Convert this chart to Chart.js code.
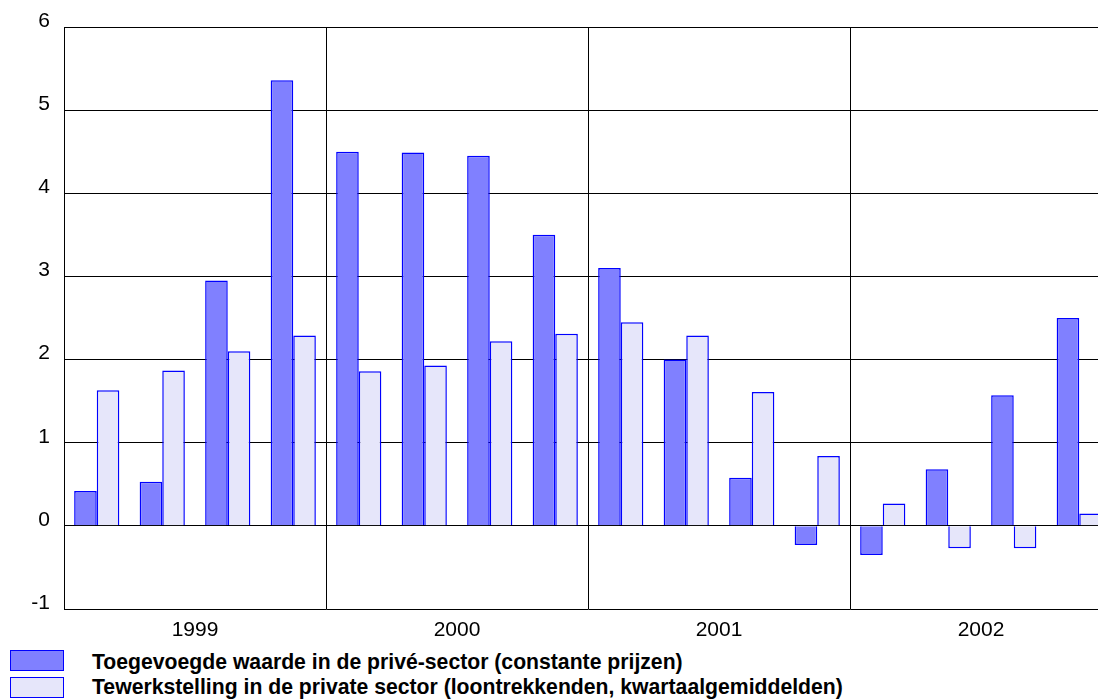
<!DOCTYPE html>
<html>
<head>
<meta charset="utf-8">
<script src="https://cdn.jsdelivr.net/npm/chart.js@4"></script>
<style>
  html, body { margin: 0; padding: 0; background: #fff; overflow: hidden; width: 1098px; height: 700px; }
  #wrap { position: absolute; left: 0; top: 0; width: 1130px; height: 650px; }
  .lg-box { position: absolute; left: 10px; width: 52px; height: 19px; border: 1px solid #0000ff; }
  .lg-text { position: absolute; left: 92px; font: bold 21.2px "Liberation Sans", Arial, sans-serif; color: #000; white-space: nowrap; line-height: 21px; }
</style>
</head>
<body>
<div id="wrap"><canvas id="c"></canvas></div>
<div class="lg-box" style="top:650px;background:#8080ff"></div>
<div class="lg-text" style="top:651px" id="l1"></div>
<div class="lg-box" style="top:677px;background:#e6e6fa"></div>
<div class="lg-text" style="top:676px" id="l2"></div>
<script>
// Quarters 1999 Q1 .. 2002 Q4
const quarters = ['1999 K1','1999 K2','1999 K3','1999 K4',
                  '2000 K1','2000 K2','2000 K3','2000 K4',
                  '2001 K1','2001 K2','2001 K3','2001 K4',
                  '2002 K1','2002 K2','2002 K3','2002 K4'];
const years = ['1999', '2000', '2001', '2002'];

const seriesNames = [
  'Toegevoegde waarde in de privé-sector (constante prijzen)',
  'Tewerkstelling in de private sector (loontrekkenden, kwartaalgemiddelden)'
];

// Year-on-year growth (%)
const toegevoegdeWaarde = [0.42, 0.53, 2.95, 5.36,
                           4.50, 4.49, 4.45, 3.50,
                           3.10, 2.00, 0.58, -0.23,
                           -0.35, 0.68, 1.57, 2.50];
const tewerkstelling = [1.63, 1.87, 2.10, 2.29,
                        1.86, 1.93, 2.22, 2.31,
                        2.45, 2.29, 1.61, 0.84,
                        0.27, -0.27, -0.27, 0.15];

const yTicks = [-1, 0, 1, 2, 3, 4, 5, 6];

document.getElementById('l1').textContent = seriesNames[0];
document.getElementById('l2').textContent = seriesNames[1];

const FONT = { family: '"Liberation Sans", Arial, sans-serif', size: 21 };

function draw() {
  new Chart(document.getElementById('c'), {
    type: 'bar',
    data: {
      labels: quarters,
      datasets: [
        { label: seriesNames[0], data: toegevoegdeWaarde, backgroundColor: '#8080ff',
          borderColor: '#0000ff', borderWidth: 1.5 },
        { label: seriesNames[1], data: tewerkstelling, backgroundColor: '#e6e6fa',
          borderColor: '#0000ff', borderWidth: 1.5 }
      ]
    },
    options: {
      responsive: true,
      maintainAspectRatio: false,
      animation: false,
      layout: { padding: { top: 27, right: 18, bottom: 0, left: 0 } },
      datasets: { bar: { categoryPercentage: 0.69, barPercentage: 1.0 } },
      plugins: { legend: { display: false }, tooltip: { enabled: false } },
      scales: {
        x: {
          display: false,
          offset: true
        },
        years: {
          type: 'category',
          position: 'bottom',
          labels: years,
          offset: true,
          grid: { offset: true, color: '#000', lineWidth: 1, drawTicks: false },
          border: { display: false },
          ticks: { color: '#000', font: FONT, padding: 9, maxRotation: 0 },
          afterFit: (s) => { s.height = 41; }
        },
        y: {
          min: -1,
          max: 6,
          afterBuildTicks: (s) => { s.ticks = yTicks.map(v => ({ value: v })); },
          grid: { color: '#000', lineWidth: 1, drawTicks: false },
          border: { display: true, color: '#000', width: 1 },
          ticks: { color: '#000', font: FONT, padding: 14, labelOffset: -6 },
          afterFit: (s) => { s.width = 64; }
        }
      }
    }
  });
}

// Make sure the tick font is ready before the canvas is painted
if (document.fonts && document.fonts.load) {
  Promise.all([
    document.fonts.load('21px "Liberation Sans"'),
    document.fonts.load('bold 21px "Liberation Sans"')
  ]).then(draw, draw);
} else {
  draw();
}
</script>
</body>
</html>
